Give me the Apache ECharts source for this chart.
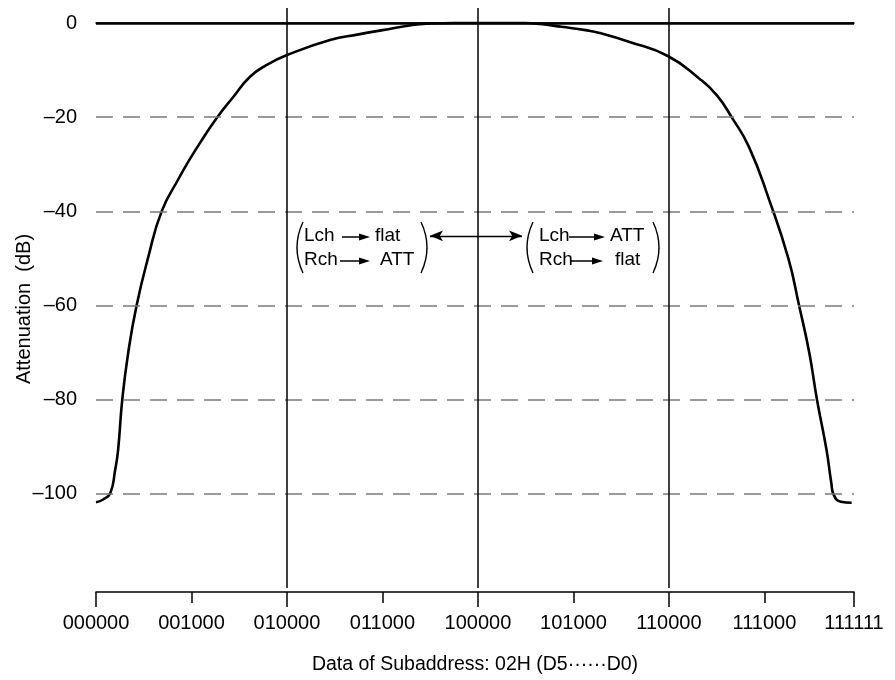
<!DOCTYPE html>
<html>
<head>
<meta charset="utf-8">
<script src="https://cdn.jsdelivr.net/npm/echarts@6/dist/echarts.min.js"></script>
<style>
html,body{margin:0;padding:0;background:#fff;}
#chart{width:895px;height:680px;}
</style>
</head>
<body>
<div id="chart"></div>
<script>
// ---- data ----
const xTickLabels = ['000000','001000','010000','011000','100000','101000','110000','111000','111111'];
const yTickLabels = ['0','\u201320','\u201340','\u201360','\u201380','\u2013100'];
const curveX = [0, 0.6, 1.2, 1.6, 1.85, 2.2, 2.7, 3.4, 4.35, 5.5, 7.0, 7.6, 8.7, 10.1, 11.5, 12.9, 14.3, 16.0, 19.6, 22, 24, 26.5, 28, 30, 32, 34, 36, 37.2, 39, 41, 42.2, 44.7, 47.9, 50.5, 52.0, 53.3, 54.7, 56.4, 58.0, 58.9, 59.75, 60.4, 61.2, 61.6, 61.8, 62.4, 63.3];
const curveY = [-101.8, -101.2, -99.8, -95, -90.7, -80, -70, -60, -50, -40, -32.7, -30, -25.5, -20.2, -15.7, -11.4, -8.9, -6.8, -3.6, -2.4, -1.5, -0.4, -0.1, 0, 0, 0, 0, -0.2, -0.8, -1.5, -2.1, -4.0, -7.0, -11.7, -15.3, -20.2, -26.3, -37.6, -50, -60, -70, -80, -90.7, -97.7, -100.2, -101.7, -101.9];
const verticalLines = [16, 32, 48];
const dashedLevels = [-20, -40, -60, -80, -100];
const zeroLevel = 0;
const xMin = 0, xMax = 63.5, yMin = -120, yMax = 3.2;
const arrowSpanX = [27.98, 35.69];
const arrowLevel = -45.2;

// ---- chart ----
const FONT = '"Liberation Sans", Arial, Helvetica, sans-serif';
const chart = echarts.init(document.getElementById('chart'), null, {renderer: 'canvas'});

function xFmt(v) {
  if (v >= 63) return xTickLabels[xTickLabels.length - 1];
  const i = Math.round(v / 8);
  return xTickLabels[i] || '';
}
function yFmt(v) {
  if (v > 0 || v < -100) return '';
  return yTickLabels[Math.round(-v / 20)] || '';
}

const baseX = {type: 'value', min: xMin, max: xMax, position: 'bottom', splitLine: {show: false}};

function smallArrow(x1, x2, y) {
  return {
    type: 'group', silent: true,
    children: [
      {type: 'line', shape: {x1: x1, y1: y, x2: x2 - 8, y2: y}, style: {stroke: '#000', lineWidth: 1.5}},
      {type: 'polygon', shape: {points: [[x2 - 11, y - 3.5], [x2, y], [x2 - 11, y + 3.5]]}, style: {fill: '#000'}}
    ]
  };
}
function paren(x, ctrlX) {
  return {type: 'bezierCurve', silent: true, shape: {x1: x, y1: 222, x2: x, y2: 273, cpx1: ctrlX, cpy1: 247.5}, style: {stroke: '#000', lineWidth: 1.4, fill: null}};
}
function txt(t, x, y) {
  return {type: 'text', silent: true, x: x, y: y, style: {text: t, font: '19px ' + FONT, fill: '#000', textVerticalAlign: 'middle'}};
}

const option = {
  animation: false,
  backgroundColor: '#fff',
  grid: {left: 96, right: 41, top: 8, bottom: 92, containLabel: false, outerBoundsMode: 'none'},
  xAxis: [
    Object.assign({}, baseX, {
      axisLine: {show: true, lineStyle: {color: '#000', width: 1.5}},
      axisTick: {show: false}, axisLabel: {show: false}
    }),
    Object.assign({}, baseX, {
      offset: 4, interval: 8,
      axisLine: {show: true, lineStyle: {color: '#000', width: 1.5}},
      axisTick: {show: true, length: 11, lineStyle: {color: '#000', width: 1.5}},
      axisLabel: {show: true, formatter: xFmt, color: '#000', fontSize: 20, fontFamily: FONT, margin: 21, showMaxLabel: true, showMinLabel: true},
      name: 'Data of Subaddress: 02H (D5\u00b7\u00b7\u00b7\u00b7\u00b7\u00b7D0)',
      nameLocation: 'middle', nameGap: 63, nameMoveOverlap: false,
      nameTextStyle: {color: '#000', fontSize: 19.5, fontFamily: FONT}
    }),
    Object.assign({}, baseX, {
      offset: 4, interval: 16,
      axisLine: {show: false},
      axisTick: {show: true, length: 15, lineStyle: {color: '#000', width: 1.5}},
      axisLabel: {show: false}
    })
  ],
  yAxis: {
    type: 'value', min: yMin, max: yMax, interval: 20,
    axisLine: {show: false}, axisTick: {show: false}, splitLine: {show: false},
    axisLabel: {formatter: yFmt, color: '#000', fontSize: 20, fontFamily: FONT, margin: 19},
    name: 'Attenuation  (dB)', nameLocation: 'middle', nameGap: 62, nameRotate: 90, nameMoveOverlap: false,
    nameTextStyle: {color: '#000', fontSize: 20, fontFamily: FONT, padding: [0, 22, 0, 0]}
  },
  series: [
    {
      type: 'line', z: 1, data: [], symbol: 'none', silent: true,
      markLine: {
        silent: true, symbol: 'none', label: {show: false}, animation: false,
        data: [].concat(
          dashedLevels.map(v => ({yAxis: v, lineStyle: {type: [17, 10], color: '#7a7a7a', width: 1.5}})),
          verticalLines.map(v => ({xAxis: v, lineStyle: {type: 'solid', color: '#000', width: 1.5}})),
          [{yAxis: zeroLevel, lineStyle: {type: 'solid', color: '#000', width: 2.6}}],
          [[{coord: [arrowSpanX[0], arrowLevel], symbol: 'arrow'}, {coord: [arrowSpanX[1], arrowLevel], symbol: 'arrow', lineStyle: {type: 'solid', color: '#000', width: 1.3}}]]
        ),
        symbolSize: [8, 13]
      }
    },
    {
      type: 'line', z: 3, symbol: 'none', silent: true,
      smooth: 0.5,
      data: curveX.map((x, i) => [x, curveY[i]]),
      lineStyle: {color: '#000', width: 2.6}
    }
  ],
  graphic: [
    paren(303, 291), paren(421, 433),
    txt('Lch', 304, 236), smallArrow(342, 370, 237), txt('flat', 375, 236),
    txt('Rch', 304, 260), smallArrow(340, 370, 261), txt('ATT', 380, 260),
    paren(533, 521), paren(653, 665),
    txt('Lch', 539, 236), smallArrow(569, 605, 237), txt('ATT', 610, 236),
    txt('Rch', 539, 260), smallArrow(570, 603, 261), txt('flat', 615, 260)
  ]
};
chart.setOption(option);
</script>
</body>
</html>
